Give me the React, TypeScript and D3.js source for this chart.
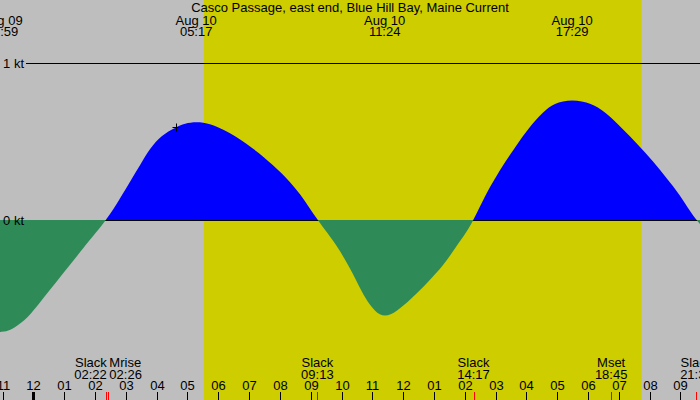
import React from 'react';
import * as d3 from 'd3';

// Casco Passage current, Aug 9-10
const TITLE = 'Casco Passage, east end, Blue Hill Bay, Maine Current';

// times (month-day hour:minute) and speed in knots
const curveTimes = [
  '08-09 22:20', '08-09 22:40', '08-09 22:59', '08-09 23:15', '08-09 23:31', '08-09 23:54',
  '08-10 00:19', '08-10 00:45', '08-10 01:11', '08-10 01:37', '08-10 02:03', '08-10 02:22',
  '08-10 02:49', '08-10 03:08', '08-10 03:28', '08-10 03:47', '08-10 04:10', '08-10 04:36',
  '08-10 04:55', '08-10 05:17', '08-10 05:44', '08-10 06:20', '08-10 07:08', '08-10 07:47',
  '08-10 08:20', '08-10 08:46', '08-10 09:13', '08-10 09:31', '08-10 09:54', '08-10 10:13',
  '08-10 10:30', '08-10 10:46', '08-10 11:05', '08-10 11:24', '08-10 11:47', '08-10 12:17',
  '08-10 12:49', '08-10 13:19', '08-10 13:41', '08-10 14:04', '08-10 14:17', '08-10 14:40',
  '08-10 14:59', '08-10 15:19', '08-10 15:41', '08-10 16:04', '08-10 16:33', '08-10 16:53',
  '08-10 17:29', '08-10 18:07', '08-10 18:33', '08-10 19:06', '08-10 19:38', '08-10 20:07',
  '08-10 20:33', '08-10 20:59', '08-10 21:19', '08-10 21:31', '08-10 21:50',
];
const curveKnots = [
  -0.69, -0.708, -0.716, -0.703, -0.669, -0.605,
  -0.499, -0.393, -0.287, -0.180, -0.075, 0,
  0.138, 0.244, 0.350, 0.457, 0.541, 0.588,
  0.616, 0.626, 0.616, 0.562, 0.457, 0.350,
  0.244, 0.138, 0, -0.075, -0.180, -0.287,
  -0.393, -0.499, -0.584, -0.620, -0.584, -0.499,
  -0.393, -0.287, -0.180, -0.075, 0, 0.159,
  0.266, 0.372, 0.478, 0.584, 0.690, 0.743,
  0.770, 0.743, 0.690, 0.584, 0.478, 0.372,
  0.266, 0.159, 0.053, 0, -0.07,
];

// max / min current labels along the top
const peakTimes = ['08-09 22:59', '08-10 05:17', '08-10 11:24', '08-10 17:29'];

// slack and moon events along the bottom
const eventNames = ['Slack', 'Mrise', 'Slack', 'Slack', 'Mset', 'Slack'];
const eventTimes = ['08-10 02:22', '08-10 02:26', '08-10 09:13', '08-10 14:17', '08-10 18:45', '08-10 21:31'];
const eventAnchors = ['end', 'start', 'middle', 'middle', 'middle', 'middle'];

const sunrise = '08-10 05:32';
const sunset = '08-10 19:44';
const domainStart = '08-09 22:55';
const domainEnd = '08-10 21:38';

const markerTime = '08-10 04:38';
const markerKnots = 0.592;

const kTicks = [0, 1];

const parse = d3.timeParse('%m-%d %H:%M');
const W = 700;
const H = 400;
const FONT = '"Liberation Sans", Arial, sans-serif';

export default function App() {
  const x = d3.scaleTime()
    .domain([parse(domainStart)!, parse(domainEnd)!])
    .range([0, W]);
  const y = d3.scaleLinear().domain([0, 1]).range([220, 63]);

  const pts = curveTimes.map((t, i) => ({ t: parse(t)!, v: curveKnots[i] }));
  const area = d3.area<{ t: Date; v: number }>()
    .x(d => x(d.t))
    .y0(y(0))
    .y1(d => y(d.v))
    .curve(d3.curveBasis);
  const areaPath = area(pts) || '';

  const hours = x.ticks(d3.timeHour.every(1)!);
  const fmtHour = d3.timeFormat('%I');
  const fmtDay = d3.timeFormat('%b %d');
  const fmtTime = d3.timeFormat('%H:%M');

  const sx0 = x(parse(sunrise)!);
  const sx1 = x(parse(sunset)!);
  const mx = Math.round(x(parse(markerTime)!)) + 0.5;
  const my = Math.round(y(markerKnots)) + 0.5;

  return (
    <svg width={W} height={H} style={{ position: 'absolute', left: 0, top: 0 }}
      fontFamily={FONT} fontSize={13}>
      <defs>
        <clipPath id="above"><rect x={0} y={0} width={W} height={y(0)} /></clipPath>
        <clipPath id="below"><rect x={0} y={y(0)} width={W} height={H - y(0)} /></clipPath>
      </defs>
      <rect width={W} height={H} fill="#bebebe" />
      <rect x={sx0} y={0} width={sx1 - sx0} height={H} fill="#cdcd00" />

      <path d={areaPath} fill="#0000ff" clipPath="url(#above)" />

      {kTicks.map(k => (
        <line key={k} x1={26} x2={W} y1={y(k) + 0.5} y2={y(k) + 0.5} stroke="#000" strokeWidth={1} />
      ))}

      <path d={areaPath} fill="#2e8b57" clipPath="url(#below)" />

      {kTicks.map(k => (
        <text key={k} x={24} y={y(k) + 4.5} textAnchor="end">{k} kt</text>
      ))}

      <path d={`M${mx - 4},${my}H${mx + 4}M${mx},${my - 4}V${my + 4}`} stroke="#000" strokeWidth={1} />

      <text x={W / 2} y={12} textAnchor="middle">{TITLE}</text>
      {peakTimes.map(t => {
        const d = parse(t)!;
        return (
          <g key={t}>
            <text x={x(d)} y={24.5} textAnchor="middle">{fmtDay(d)}</text>
            <text x={x(d)} y={36} textAnchor="middle">{fmtTime(d)}</text>
          </g>
        );
      })}

      {eventTimes.map((t, i) => {
        const d = parse(t)!;
        const ex = x(d);
        const a = eventAnchors[i];
        const tx = a === 'end' ? ex + 0.5 : a === 'start' ? ex + 1 : ex;
        return (
          <g key={t}>
            <text x={tx} y={366.5} textAnchor={a}>{eventNames[i]}</text>
            <text x={tx} y={378.5} textAnchor={a}>{fmtTime(d)}</text>
            <line x1={Math.round(ex) + 0.5} x2={Math.round(ex) + 0.5} y1={392} y2={H} stroke="#ff0000" strokeWidth={1} />
          </g>
        );
      })}

      {hours.map(h => {
        const hx = Math.round(x(h)) + 0.5;
        const midnight = h.getHours() === 0;
        return (
          <g key={+h}>
            <text x={hx} y={390} textAnchor="middle">{fmtHour(h)}</text>
            <line x1={hx} x2={hx} y1={392} y2={H} stroke="#000" strokeWidth={midnight ? 3 : 1} />
          </g>
        );
      })}
    </svg>
  );
}
